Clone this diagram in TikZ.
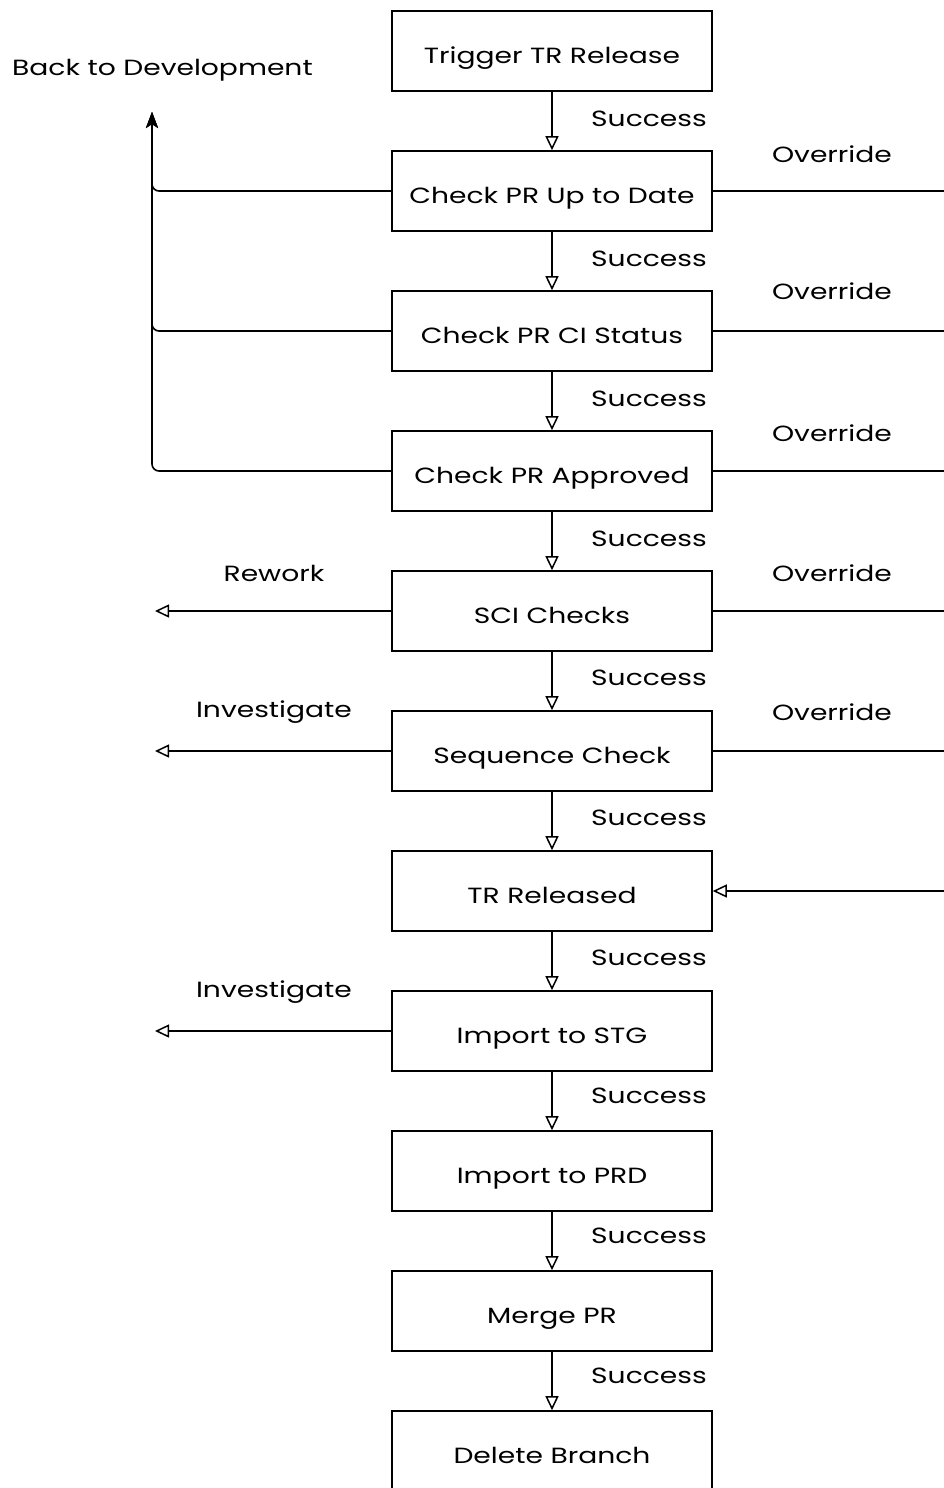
\documentclass[tikz,border=0pt]{standalone}
\usepackage{fontspec}
\setmainfont[FakeStretch=1.28]{Poppins}
\usetikzlibrary{arrows.meta}
\begin{document}
\begin{tikzpicture}[x=1pt,y=-1pt,
  stepbox/.style={draw, line width=1.6pt, minimum width=320pt, minimum height=80pt,
    inner sep=0pt, text height=25pt, text depth=0pt, font=\fontsize{22}{25}\selectfont},
  lbl/.style={inner sep=0pt, font=\fontsize{22}{25}\selectfont},
  flow/.style={line width=1.6pt, -{Triangle[open,length=14pt,width=13pt,line width=1.5pt]}},
  side/.style={line width=1.6pt, rounded corners=7pt},
  back/.style={line width=1.6pt, rounded corners=7pt, -{Stealth[length=16pt,width=12pt,inset=4pt]}}]
\useasboundingbox (0,0) rectangle (943,1488);

% process steps
\node[stepbox] (trig) at (552,51)   {Trigger TR Release};
\node[stepbox] (upd)  at (552,191)  {Check PR Up to Date};
\node[stepbox] (ci)   at (552,331)  {Check PR CI Status};
\node[stepbox] (appr) at (552,471)  {Check PR Approved};
\node[stepbox] (sci)  at (552,611)  {SCI Checks};
\node[stepbox] (seq)  at (552,751)  {Sequence Check};
\node[stepbox] (rel)  at (552,891)  {TR Released};
\node[stepbox] (stg)  at (552,1031) {Import to STG};
\node[stepbox] (prd)  at (552,1171) {Import to PRD};
\node[stepbox] (mrg)  at (552,1311) {Merge PR};
\node[stepbox] (del)  at (552,1451) {Delete Branch};

% main success chain
\foreach \a/\b/\y in {trig/upd/119, upd/ci/259, ci/appr/399, appr/sci/539, sci/seq/678,
                      seq/rel/818, rel/stg/958, stg/prd/1096, prd/mrg/1236, mrg/del/1376} {
  \draw[flow] (\a) -- (\b);
  \node[lbl, anchor=west] (s-\a) at (591,\y) {Success};
}

% back to development
\node[lbl, anchor=west] (btd) at (12,70) {Back to Development};
\coordinate (btdtip) at (152,112);
\foreach \n in {upd, ci, appr}
  \draw[back] (\n.west) -| (btdtip);

% overrides to release
\coordinate (ovr) at (955,891);
\foreach \n/\y in {upd/154, ci/291, appr/433, sci/573, seq/712} {
  \draw[side] (\n.east) -| (ovr);
  \node[lbl] (o-\n) at (832,\y) {Override};
}
\draw[flow] (ovr) -- (rel.east);

% rework / investigate exits
\coordinate (xsci) at (155,611);
\coordinate (xseq) at (155,751);
\coordinate (xstg) at (155,1031);
\draw[flow] (sci.west) -- (xsci);
\draw[flow] (seq.west) -- (xseq);
\draw[flow] (stg.west) -- (xstg);
\node[lbl] (rw)  at (274,573) {Rework};
\node[lbl] (iv1) at (274,712) {Investigate};
\node[lbl] (iv2) at (274,992) {Investigate};
\end{tikzpicture}
\end{document}
